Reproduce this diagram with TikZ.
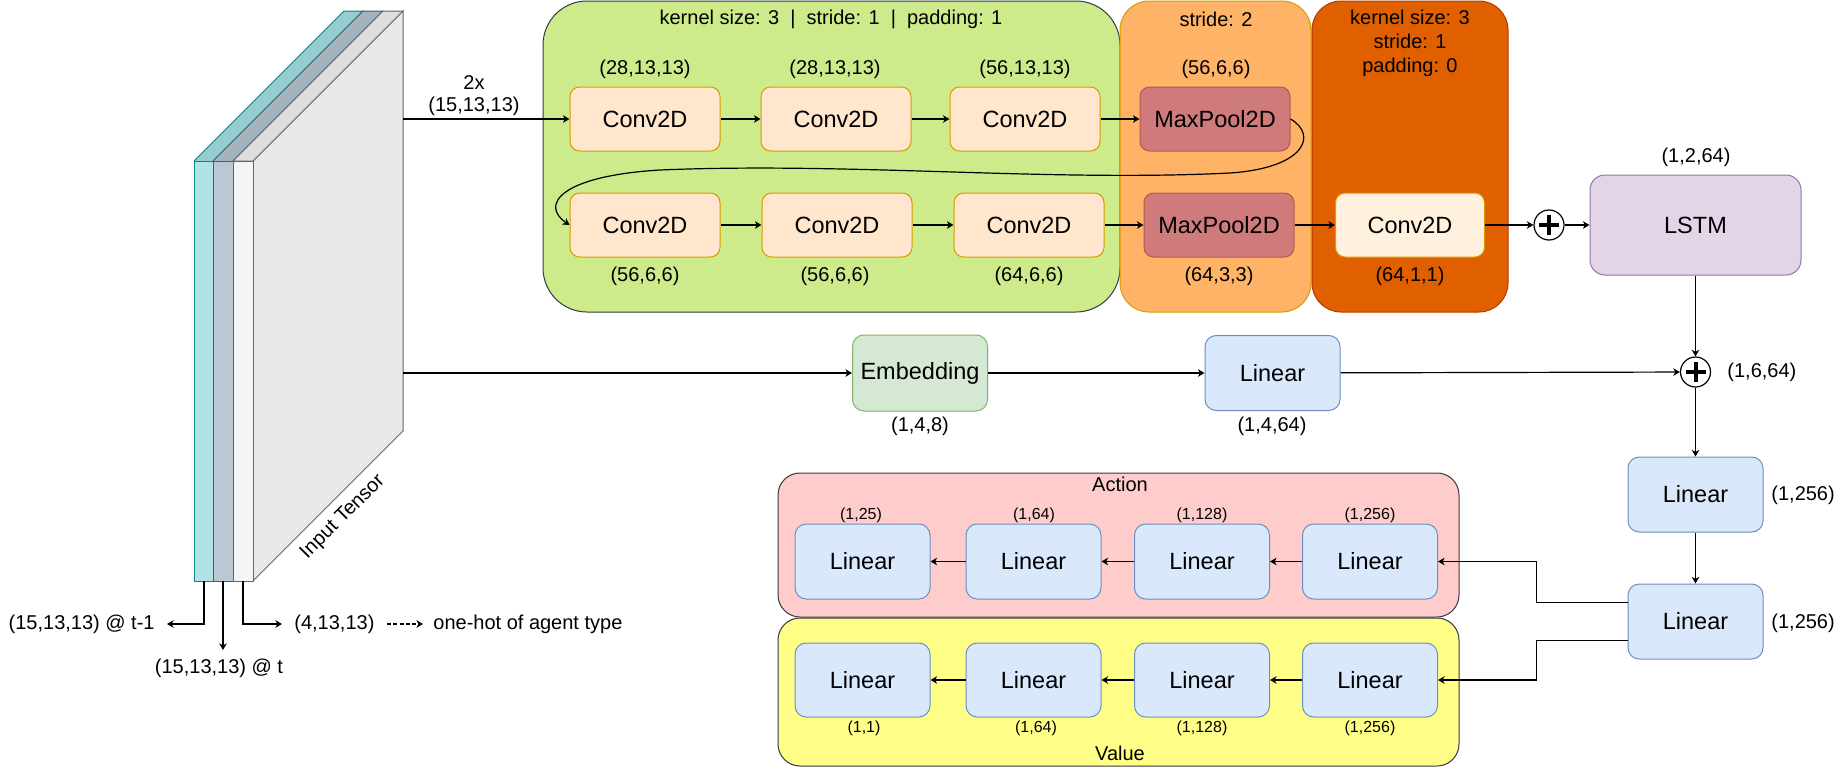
\documentclass[tikz,border=0pt]{standalone}
\usepackage{fontspec}
\setmainfont{Liberation Sans}
\usetikzlibrary{arrows.meta}
\definecolor{grnF}{HTML}{CDEB8B}
\definecolor{grnS}{HTML}{36393D}
\definecolor{orF}{HTML}{FFB366}
\definecolor{orS}{HTML}{D79B00}
\definecolor{dorF}{HTML}{E06000}
\definecolor{dorS}{HTML}{B23A00}
\definecolor{convF}{HTML}{FFE6CC}
\definecolor{convS}{HTML}{D79B00}
\definecolor{creamF}{HTML}{FFF1DE}
\definecolor{poolF}{HTML}{D07B7B}
\definecolor{poolS}{HTML}{B85450}
\definecolor{lstmF}{HTML}{E1D5E7}
\definecolor{lstmS}{HTML}{9673A6}
\definecolor{embF}{HTML}{D5E8D4}
\definecolor{embS}{HTML}{82B366}
\definecolor{linF}{HTML}{DAE8FC}
\definecolor{linS}{HTML}{6C8EBF}
\definecolor{actF}{HTML}{FFCCCC}
\definecolor{valF}{HTML}{FFFF88}
\definecolor{cyF}{HTML}{B0E3E6}
\definecolor{cyT}{HTML}{96CDD0}
\definecolor{cyS}{HTML}{0E8088}
\definecolor{bgF}{HTML}{BAC8D3}
\definecolor{bgT}{HTML}{A5B3BE}
\definecolor{bgS}{HTML}{3F5D72}
\definecolor{wF}{HTML}{F5F5F5}
\definecolor{wT}{HTML}{DEDEDE}
\definecolor{wSd}{HTML}{E8E8E8}
\definecolor{wS}{HTML}{666666}
\newcommand{\bxfont}{\fontsize{11.75pt}{14pt}\selectfont}
\newcommand{\lbfont}{\fontsize{10pt}{12pt}\selectfont}
\newcommand{\smfont}{\fontsize{8pt}{10pt}\selectfont}
\begin{document}
\begin{tikzpicture}[x=0.5pt,y=-0.5pt,
  arr/.style={line width=0.6pt,-{Stealth[length=3.3pt,width=3.8pt,inset=1pt]}},
  ln/.style={line width=0.6pt},
  grp/.style={line width=0.5pt},
  blk/.style={line width=0.5pt,inner sep=0pt,font=\bxfont},
  conv/.style={blk,draw=convS,fill=convF,rounded corners=4.8pt,minimum width=75pt,minimum height=32pt},
  pool/.style={blk,draw=poolS,fill=poolF,rounded corners=4.8pt,minimum width=75pt,minimum height=32pt},
  lin/.style={blk,draw=linS,fill=linF,rounded corners=5.6pt,minimum width=67.5pt,minimum height=37.5pt},
  lbl/.style={inner sep=0pt,font=\lbfont},
  sml/.style={inner sep=0pt,font=\smfont},
  plusnode/.style={circle,draw,line width=0.6pt,fill=white,minimum size=15pt,inner sep=0pt}
]
\useasboundingbox (0,0) rectangle (1843,771);

% ---------- group boxes ----------
\draw[grp,draw=grnS,fill=grnF,rounded corners=22pt] (543,1) rectangle (1120,312);
\draw[grp,draw=orS,fill=orF,rounded corners=14.5pt] (1120,1) rectangle (1311,312);
\draw[grp,draw=dorS,fill=dorF,rounded corners=14.5pt] (1312,1) rectangle (1508,312);
\draw[grp,draw=grnS,fill=actF,rounded corners=11pt] (778,473) rectangle (1459,617);
\draw[grp,draw=grnS,fill=valF,rounded corners=11pt] (778,618) rectangle (1459,766);

\node[lbl] (tgreen) at (831,19) {kernel size: 3~~|~~stride: 1~~|~~padding: 1};
\node[lbl] (torange) at (1216,19) {stride: 2};
\node[lbl,align=center,font=\fontsize{10pt}{12pt}\selectfont] (tdark) at (1410,43) {kernel size: 3\\stride: 1\\padding: 0};
\node[lbl] (tact) at (1120,484) {Action};
\node[lbl] (tval) at (1120,753) {Value};

% ---------- input tensor ----------
\fill[cyT] (194,161) -- (344,11) -- (363,11) -- (213,161) -- cycle;
\draw[cyS,line width=0.5pt] (194,161) -- (344,11) -- (363,11) -- (213,161);
\draw[cyS,fill=cyF,line width=0.5pt] (194,161) rectangle (213,581);
\fill[bgT] (213,161) -- (363,11) -- (383,11) -- (233,161) -- cycle;
\draw[bgS,line width=0.5pt] (213,161) -- (363,11) -- (383,11) -- (233,161);
\draw[bgS,fill=bgF,line width=0.5pt] (213,161) rectangle (233,581);
\draw[wS,fill=wSd,line width=0.5pt] (253,161) -- (403,11) -- (403,431) -- (253,581) -- cycle;
\draw[wS,fill=wT,line width=0.5pt] (233,161) -- (383,11) -- (403,11) -- (253,161) -- cycle;
\draw[wS,fill=wF,line width=0.5pt] (233,161) rectangle (253,581);
\node[lbl,rotate=45] (tin) at (343,517) {Input Tensor};

\coordinate (tR1) at (403,119);
\coordinate (tR2) at (403,373);
\coordinate (bCy) at (204,581);
\coordinate (bBg) at (223,581);
\coordinate (bW) at (243,581);
\coordinate (eCy) at (167,624);
\coordinate (eBg) at (223,650);
\coordinate (eW) at (282,624);

\node[lbl,anchor=east] (lt1) at (155,624) {(15,13,13) @ t-1};
\node[lbl] (lt) at (219,668) {(15,13,13) @ t};
\node[lbl,anchor=west] (l4) at (294,624) {(4,13,13)};
\node[lbl,anchor=west] (loh) at (433,624) {one-hot of agent type};

\draw[arr] (bCy) |- (eCy);
\draw[arr] (bBg) -- (eBg);
\draw[arr] (bW) |- (eW);
\draw[arr,dashed,dash pattern=on 2pt off 1.2pt] ([xshift=6pt]l4.east) -- ([xshift=-5pt]loh.west);

% ---------- conv stack ----------
\node[conv] (c1) at (645,119) {Conv2D};
\node[conv] (c2) at (836,119) {Conv2D};
\node[conv] (c3) at (1025,119) {Conv2D};
\node[pool] (mp1) at (1215,119) {MaxPool2D};
\node[conv] (c4) at (645,225) {Conv2D};
\node[conv] (c5) at (837,225) {Conv2D};
\node[conv] (c6) at (1029,225) {Conv2D};
\node[pool] (mp2) at (1219,225) {MaxPool2D};
\node[blk,draw=convS,fill=creamF,rounded corners=4.8pt,minimum width=74.5pt,minimum height=32pt] (c7) at (1410,225) {Conv2D};

\node[lbl] at (645,69) {(28,13,13)};
\node[lbl] at (835,69) {(28,13,13)};
\node[lbl] at (1025,69) {(56,13,13)};
\node[lbl] at (1216,69) {(56,6,6)};
\node[lbl] at (645,276) {(56,6,6)};
\node[lbl] at (835,276) {(56,6,6)};
\node[lbl] at (1029,276) {(64,6,6)};
\node[lbl] at (1219,276) {(64,3,3)};
\node[lbl] at (1410,276) {(64,1,1)};

\draw[arr] (tR1) -- (c1);
\node[lbl] at (474,83) {2x};
\node[lbl] at (474,106) {(15,13,13)};
\draw[arr] (c1) -- (c2);
\draw[arr] (c2) -- (c3);
\draw[arr] (c3) -- (mp1);
\draw[arr] (mp1.east) .. controls (1318,135) and (1305,168) .. (1230,173)
   .. controls (1050,182) and (850,162) .. (660,170)
   .. controls (560,176) and (540,205) .. (c4.west);
\draw[arr] (c4) -- (c5);
\draw[arr] (c5) -- (c6);
\draw[arr] (c6) -- (mp2);
\draw[arr] (mp2) -- (c7);

% ---------- LSTM and merge ----------
\node[plusnode] (p1) at (1549,225) {};
\draw[line width=2pt] ([xshift=-5pt]p1.center) -- ([xshift=5pt]p1.center);
\draw[line width=2pt] ([yshift=-5pt]p1.center) -- ([yshift=5pt]p1.center);
\node[blk,draw=lstmS,fill=lstmF,rounded corners=7.5pt,minimum width=105.5pt,minimum height=50pt] (lstm) at (1695.5,225) {LSTM};
\node[lbl] at (1696,157) {(1,2,64)};
\draw[arr] (c7) -- (p1);
\draw[arr] (p1) -- (lstm);

\node[blk,draw=embS,fill=embF,rounded corners=5.7pt,minimum width=67.5pt,minimum height=38pt] (emb) at (920,373) {Embedding};
\node[lbl] at (920,426) {(1,4,8)};
\node[lin] (lin0) at (1272.5,373) {Linear};
\node[lbl] at (1272,426) {(1,4,64)};
\draw[arr] (tR2) -- (emb);
\draw[arr] (emb) -- (lin0);

\node[plusnode] (p2) at (1695.5,372) {};
\draw[line width=2pt] ([xshift=-5pt]p2.center) -- ([xshift=5pt]p2.center);
\draw[line width=2pt] ([yshift=-5pt]p2.center) -- ([yshift=5pt]p2.center);
\node[lbl,anchor=west] at (1727,372) {(1,6,64)};
\draw[arr] (lin0) -- (p2);
\draw[arr] (lstm) -- (p2);

\node[lin] (L1) at (1695.5,494.5) {Linear};
\node[lbl,anchor=west] at (1771,495) {(1,256)};
\node[lin] (L2) at (1695.5,621.5) {Linear};
\node[lbl,anchor=west] at (1771,623) {(1,256)};
\draw[arr] (p2) -- (L1);
\draw[arr] (L1) -- (L2);

% ---------- heads ----------
\node[lin] (a1) at (862.5,561.5) {Linear};
\node[lin] (a2) at (1033.5,561.5) {Linear};
\node[lin] (a3) at (1202,561.5) {Linear};
\node[lin] (a4) at (1370,561.5) {Linear};
\node[sml] at (861,515) {(1,25)};
\node[sml] at (1034,515) {(1,64)};
\node[sml] at (1202,515) {(1,128)};
\node[sml] at (1370,515) {(1,256)};
\node[lin,minimum height=37pt] (v1) at (862.5,680) {Linear};
\node[lin,minimum height=37pt] (v2) at (1033.5,680) {Linear};
\node[lin,minimum height=37pt] (v3) at (1202,680) {Linear};
\node[lin,minimum height=37pt] (v4) at (1370,680) {Linear};
\node[sml] at (864,728) {(1,1)};
\node[sml] at (1036,728) {(1,64)};
\node[sml] at (1202,728) {(1,128)};
\node[sml] at (1370,728) {(1,256)};

\draw[arr] (a4) -- (a3);
\draw[arr] (a3) -- (a2);
\draw[arr] (a2) -- (a1);
\draw[arr] (v4) -- (v3);
\draw[arr] (v3) -- (v2);
\draw[arr] (v2) -- (v1);
\draw[arr] ([yshift=9.4pt]L2.west) -- ++(-91,0) |- (a4.east);
\draw[arr] ([yshift=-9.6pt]L2.west) -- ++(-91,0) |- (v4.east);
\end{tikzpicture}
\end{document}
